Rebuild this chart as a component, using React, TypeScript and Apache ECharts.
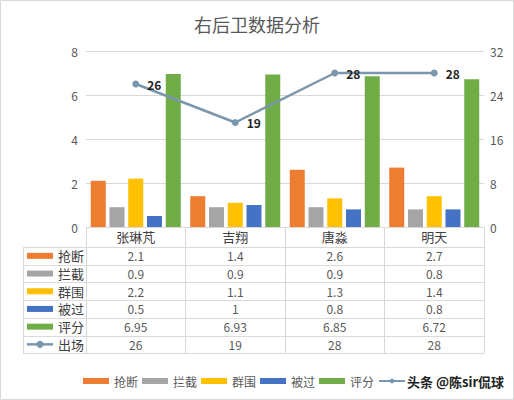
import React, { useEffect, useRef } from "react";
import * as echarts from "echarts";

const categories = ["张琳芃", "吉翔", "唐淼", "明天"];
const steals = [2.1, 1.4, 2.6, 2.7];
const intercepts = [0.9, 0.9, 0.9, 0.8];
const clearances = [2.2, 1.1, 1.3, 1.4];
const dribbledPast = [0.5, 1, 0.8, 0.8];
const ratings = [6.95, 6.93, 6.85, 6.72];
const appearances = [26, 19, 28, 28];
const seriesNames = ["抢断", "拦截", "群围", "被过", "评分", "出场"];
const seriesColors = ["#ED7D31", "#A5A5A5", "#FFC000", "#4472C4", "#70AD47", "#7B97AD"];
const barValues = [steals, intercepts, clearances, dribbledPast, ratings];
const tableRows = [steals, intercepts, clearances, dribbledPast, ratings, appearances];
const titleText = "右后卫数据分析";
const watermarkText = "头条 @陈sir侃球";

const FONT = "Noto Sans CJK SC";

export default function App() {
  const ref = useRef<HTMLDivElement>(null);
  useEffect(() => {
    document.body.style.margin = "0";
    const chart = echarts.init(ref.current!, null, { renderer: "svg" });
    const gridLeft = 86;
    const gridRight = 30;
    const gridTop = 51;
    const gridHeight = 176;
    const tableTop = 247;
    const rowH = 17.7;
    const tableLeft = 23;
    const tableRight = 514 - gridRight;

    const bars = barValues.map((vals, i) => ({
      name: seriesNames[i],
      type: "bar",
      data: vals,
      barWidth: 15,
      barGap: "25%",
      itemStyle: { color: seriesColors[i] },
    }));

    const option: any = {
      animation: false,
      textStyle: { fontFamily: FONT },
      title: {
        text: titleText,
        left: "center",
        top: 10,
        textStyle: { fontSize: 18, fontWeight: "normal", color: "#595959", fontFamily: FONT },
      },
      grid: { left: gridLeft, right: gridRight, top: gridTop, height: gridHeight },
      legend: {
        left: 83,
        top: 375,
        padding: 0,
        itemWidth: 26,
        itemHeight: 6,
        itemGap: 4,
        textStyle: { fontSize: 12, color: "#595959", fontFamily: FONT },
        formatter: (name: string) => (name === seriesNames[5] ? "" : name),
        data: seriesNames.map((n, i) => (i === 5 ? { name: n } : { name: n, icon: "rect" })),
      },
      xAxis: {
        type: "category",
        data: categories,
        axisLine: { show: true, lineStyle: { color: "#d9d9d9" } },
        axisTick: { show: true, interval: 0, length: 126, lineStyle: { color: "#d9d9d9" } },
        axisLabel: { margin: 3, fontSize: 13, color: "#404040", fontFamily: FONT },
      },
      yAxis: [
        {
          type: "value",
          min: 0,
          max: 8,
          interval: 2,
          axisLine: { show: false },
          axisTick: { show: false },
          splitLine: { lineStyle: { color: "#d9d9d9" } },
          axisLabel: { margin: 8, fontSize: 12, color: "#595959" },
        },
        {
          type: "value",
          min: 0,
          max: 32,
          interval: 8,
          axisLine: { show: false },
          axisTick: { show: false },
          splitLine: { show: false },
          axisLabel: { margin: 6, fontSize: 12, color: "#595959" },
        },
      ],
      series: [
        ...bars,
        {
          name: seriesNames[5],
          type: "line",
          yAxisIndex: 1,
          data: appearances,
          symbol: "circle",
          symbolSize: 7,
          lineStyle: { width: 2.5, color: seriesColors[5] },
          itemStyle: { color: seriesColors[5] },
          label: {
            show: true,
            position: "right",
            distance: 8,
            fontSize: 12,
            fontWeight: "bold",
            color: "#262626",
          },
        },
      ],
    };
    chart.setOption(option);

    const centers = categories.map((c) => chart.convertToPixel({ xAxisIndex: 0 }, c) as number);
    const graphic: any[] = [];
    graphic.push({
      type: "rect",
      shape: { x: 0.5, y: 0.5, width: 513, height: 399 },
      style: { fill: "none", stroke: "#d9d9d9", lineWidth: 1 },
      silent: true,
    });
    for (let r = 0; r <= tableRows.length; r++) {
      const y = Math.round(tableTop + r * rowH) + 0.5;
      graphic.push({
        type: "line",
        shape: { x1: tableLeft, y1: y, x2: tableRight, y2: y },
        style: { stroke: "#d9d9d9", lineWidth: 1 },
        silent: true,
      });
    }
    graphic.push({
      type: "line",
      shape: {
        x1: tableLeft + 0.5,
        y1: tableTop,
        x2: tableLeft + 0.5,
        y2: Math.round(tableTop + tableRows.length * rowH) + 0.5,
      },
      style: { stroke: "#d9d9d9", lineWidth: 1 },
      silent: true,
    });
    tableRows.forEach((vals, r) => {
      const yc = tableTop + r * rowH + rowH / 2;
      if (r < 5) {
        graphic.push({
          type: "rect",
          shape: { x: 27, y: yc - 3, width: 26, height: 6 },
          style: { fill: seriesColors[r] },
          silent: true,
        });
      } else {
        graphic.push({
          type: "line",
          shape: { x1: 27, y1: yc, x2: 53, y2: yc },
          style: { stroke: seriesColors[r], lineWidth: 2.5 },
          silent: true,
        });
        graphic.push({
          type: "circle",
          shape: { cx: 40, cy: yc, r: 3.5 },
          style: { fill: seriesColors[r] },
          silent: true,
        });
      }
      graphic.push({
        type: "text",
        x: 58,
        y: yc,
        style: {
          text: seriesNames[r],
          fontSize: 13,
          fill: "#404040",
          fontFamily: FONT,
          verticalAlign: "middle",
          align: "left",
        },
        silent: true,
      });
      vals.forEach((v, i) => {
        graphic.push({
          type: "text",
          x: centers[i],
          y: yc,
          style: {
            text: String(v),
            fontSize: 12,
            fill: "#595959",
            fontFamily: FONT,
            verticalAlign: "middle",
            align: "center",
          },
          silent: true,
        });
      });
    });
    graphic.push({
      type: "text",
      x: 407,
      y: 381,
      style: {
        text: watermarkText,
        fontSize: 13,
        fontWeight: "bold",
        fill: "#222222",
        fontFamily: FONT,
        verticalAlign: "middle",
        align: "left",
      },
      silent: true,
    });
    chart.setOption({ graphic });

    return () => chart.dispose();
  }, []);
  return <div ref={ref} style={{ width: 514, height: 400 }} />;
}
